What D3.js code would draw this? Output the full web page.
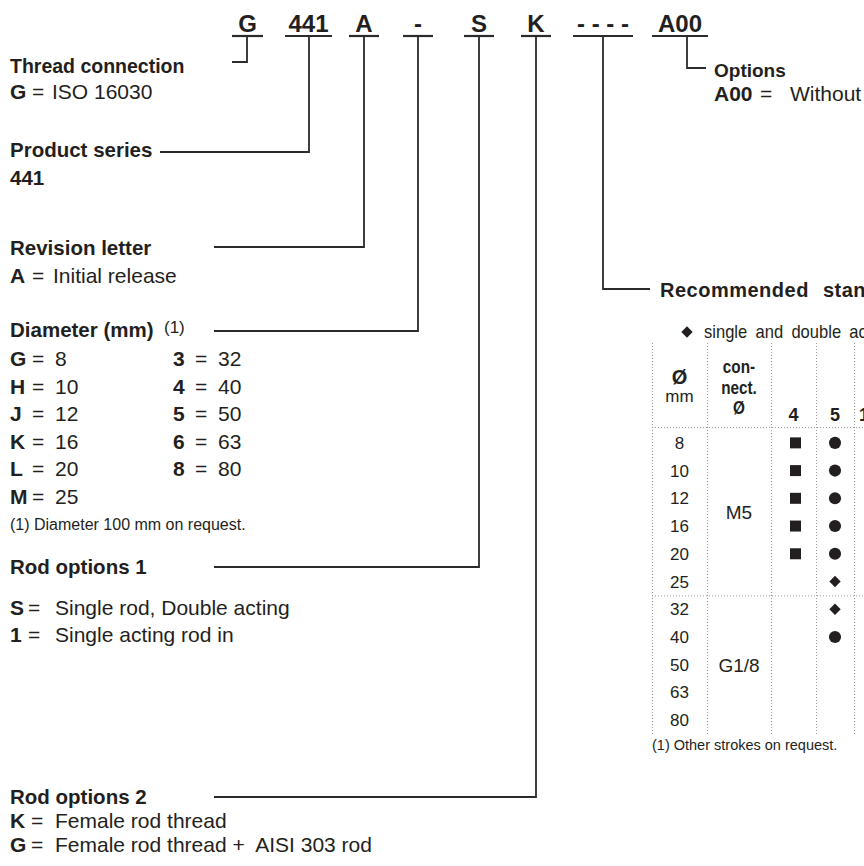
<!DOCTYPE html>
<html>
<head>
<meta charset="utf-8">
<script src="https://cdn.jsdelivr.net/npm/d3@7"></script>
<style>
  body { margin: 0; background: #fff; overflow: hidden; }
  svg { display: block; font-family: "Liberation Sans", Arial, Helvetica, sans-serif; }
</style>
</head>
<body>
<div id="chart"></div>
<script>
// ordering code parts
var codeParts = ["G", "441", "A", "-", "S", "K", "- - - -", "A00"];

// section titles (left block + right block)
var sectionTitles = ["Thread connection", "Product series", "Revision letter", "Diameter (mm)",
                     "Rod options 1", "Rod options 2", "Options", "Recommended standard strokes (1)"];

var threadCodes = [["G", "ISO 16030"]];
var seriesCodes = ["441"];
var revisionCodes = [["A", "Initial release"]];
var diameterLeft = [["G", "8"], ["H", "10"], ["J", "12"], ["K", "16"], ["L", "20"], ["M", "25"]];
var diameterRight = [["3", "32"], ["4", "40"], ["5", "50"], ["6", "63"], ["8", "80"]];
var rodOptions1 = [["S", "Single rod, Double acting"], ["1", "Single acting rod in"]];
var rodOptions2 = [["K", "Female rod thread"], ["G", "Female rod thread +\u00a0 AISI 303 rod"]];
var optionCodes = [["A00", "Without options"]];
var footnotes = ["(1) Diameter 100 mm on request.", "(1) Other strokes on request."];

// stroke table
var boreDiameters = [8, 10, 12, 16, 20, 25, 32, 40, 50, 63, 80];
var connections = [["M5", 8, 25], ["G1/8", 32, 80]];
var strokeColumns = ["4", "5", "10"];
var legendText = "single and double acting";
// mark per bore/stroke: square, circle, diamond
var strokeMarks = [
  [8, "4", "square"], [10, "4", "square"], [12, "4", "square"], [16, "4", "square"], [20, "4", "square"],
  [8, "5", "circle"], [10, "5", "circle"], [12, "5", "circle"], [16, "5", "circle"], [20, "5", "circle"],
  [25, "5", "diamond"], [32, "5", "diamond"], [40, "5", "circle"]
];

var W = 864, H = 866;
var ink = "#231f20", lineCol = "#2b2b2b", dotCol = "#9a9a9a";

var svg = d3.select("#chart").append("svg")
    .attr("width", W)
    .attr("height", H);

// ---- header code ----
var partX = d3.scaleOrdinal().domain(codeParts).range([247.5, 308.5, 364, 418, 479, 536, 603, 680]);
var partW = d3.scaleOrdinal().domain(codeParts).range([31, 47, 30, 30, 30, 30, 60, 56]);
var leaderX = d3.scaleOrdinal().domain(codeParts).range([247, 309, 364, 418, 479, 536, 603, 687]);
var underY = 36;

svg.selectAll(".part")
  .data(codeParts)
  .enter().append("text")
    .attr("class", "part")
    .attr("x", function(d) { return partX(d); })
    .attr("y", 32)
    .attr("text-anchor", "middle")
    .attr("font-size", 24)
    .attr("font-weight", "bold")
    .attr("fill", ink)
    .text(function(d) { return d; });

svg.selectAll(".under")
  .data(codeParts)
  .enter().append("line")
    .attr("class", "under")
    .attr("x1", function(d) { return partX(d) - partW(d) / 2; })
    .attr("x2", function(d) { return partX(d) + partW(d) / 2; })
    .attr("y1", underY).attr("y2", underY)
    .attr("stroke", lineCol)
    .attr("stroke-width", 2.2);

// ---- left column text ----
function title(x, y, t, size) {
  return svg.append("text")
    .attr("x", x).attr("y", y)
    .attr("font-size", size || 20.5)
    .attr("font-weight", "bold")
    .attr("fill", ink)
    .text(t);
}

function codeRow(x, y, code, desc, eqX, descX, size) {
  var t = svg.append("text")
    .attr("y", y)
    .attr("font-size", size || 21)
    .attr("fill", ink);
  t.append("tspan").attr("x", x).attr("font-weight", "bold").text(code);
  t.append("tspan").attr("x", eqX).text("=");
  t.append("tspan").attr("x", descX).text(desc);
  return t;
}

var L = 10;
// baselines of left titles
var titleY = [73, 157, 255, 337, 574, 804];

title(L, titleY[0], sectionTitles[0], 19.5);
threadCodes.forEach(function(d) { codeRow(L, 99, d[0], d[1], 32, 52); });

title(L, titleY[1], sectionTitles[1]);
svg.append("text").attr("x", L).attr("y", 185)
  .attr("font-size", 20.5).attr("font-weight", "bold").attr("fill", ink)
  .text(seriesCodes[0]);

title(L, titleY[2], sectionTitles[2]);
revisionCodes.forEach(function(d) { codeRow(L, 283, d[0], d[1], 32, 53); });

title(L, titleY[3], sectionTitles[3]);
svg.append("text").attr("x", 164).attr("y", 333)
  .attr("font-size", 17).attr("fill", ink).text("(1)");

var dRow = d3.scaleLinear().domain([0, 5]).range([366, 504]);
diameterLeft.forEach(function(d, i) { codeRow(L, dRow(i), d[0], d[1], 32, 55); });
diameterRight.forEach(function(d, i) { codeRow(173, dRow(i), d[0], d[1], 195, 218); });

svg.append("text").attr("x", L).attr("y", 530)
  .attr("font-size", 16).attr("fill", ink).text(footnotes[0]);

title(L, titleY[4], sectionTitles[4]);
var r1Row = d3.scaleLinear().domain([0, 1]).range([615, 642]);
rodOptions1.forEach(function(d, i) { codeRow(L, r1Row(i), d[0], d[1], 28, 55); });

title(L, titleY[5], sectionTitles[5]);
var r2Row = d3.scaleLinear().domain([0, 1]).range([828, 852]);
rodOptions2.forEach(function(d, i) { codeRow(L, r2Row(i), d[0], d[1], 31, 55); });

// ---- right side: options ----
title(714, 77, sectionTitles[6], 19);
optionCodes.forEach(function(d) { codeRow(714, 101, d[0], d[1], 760, 790, 21); });

// ---- leaders ----
var line = d3.line();
var leaders = [
  ["G", 62, 232],
  ["441", titleY[1] - 5, 160],
  ["A", titleY[2] - 8, 214],
  ["-", titleY[3] - 6, 214],
  ["S", titleY[4] - 7, 214],
  ["K", titleY[5] - 7, 214],
  ["- - - -", 289, 650],
  ["A00", 68, 706]
];
svg.selectAll(".leader")
  .data(leaders)
  .enter().append("path")
    .attr("class", "leader")
    .attr("d", function(d) {
      var x = leaderX(d[0]);
      return line([[x, underY], [x, d[1]], [d[2], d[1]]]);
    })
    .attr("fill", "none")
    .attr("stroke", lineCol)
    .attr("stroke-width", 1.8);

// ---- stroke table ----
svg.append("text")
  .attr("x", 660).attr("y", 297)
  .attr("font-size", 20).attr("font-weight", "bold")
  .attr("letter-spacing", 0.5).attr("word-spacing", 8)
  .attr("fill", ink)
  .text(sectionTitles[7]);

var sym = d3.symbol();
function markPath(type) {
  if (type === "square") return sym.type(d3.symbolSquare).size(121)();
  if (type === "circle") return sym.type(d3.symbolCircle).size(115)();
  return sym.type(d3.symbolSquare).size(64)();
}
function markRot(type) { return type === "diamond" ? " rotate(45)" : ""; }

// legend
svg.append("path")
  .attr("d", markPath("diamond"))
  .attr("transform", "translate(687,332)" + markRot("diamond"))
  .attr("fill", ink);
svg.append("text")
  .attr("transform", "translate(704,338) scale(0.92,1)")
  .attr("font-size", 18).attr("word-spacing", 4)
  .attr("fill", ink)
  .text(legendText);

var tableTop = 343, headBottom = 427;
var y = d3.scaleBand().domain(boreDiameters).range([429, 734]);
var colKeys = ["bore", "conn"].concat(strokeColumns);
var colLeft = d3.scaleOrdinal().domain(colKeys).range([652, 707, 771, 816, 854]);
var colRight = d3.scaleOrdinal().domain(colKeys).range([707, 771, 816, 854, 884]);
function colMid(k) { return (colLeft(k) + colRight(k)) / 2; }

// dotted grid
var grid = svg.append("g")
  .attr("stroke", dotCol)
  .attr("stroke-width", 1)
  .attr("stroke-dasharray", "1,2");
grid.selectAll(".vl")
  .data(colKeys)
  .enter().append("line")
    .attr("x1", function(d) { return colLeft(d) + 0.5; })
    .attr("x2", function(d) { return colLeft(d) + 0.5; })
    .attr("y1", tableTop).attr("y2", y.range()[1]);
grid.selectAll(".hl")
  .data([headBottom, y(32)])
  .enter().append("line")
    .attr("x1", 652).attr("x2", W)
    .attr("y1", function(d) { return d + 0.5; })
    .attr("y2", function(d) { return d + 0.5; });

// header cells
svg.append("text").attr("x", colMid("bore")).attr("y", 384)
  .attr("text-anchor", "middle").attr("font-size", 20).attr("font-weight", "bold")
  .attr("fill", ink).text("Ø");
svg.append("text").attr("x", colMid("bore")).attr("y", 402)
  .attr("text-anchor", "middle").attr("font-size", 17)
  .attr("fill", ink).text("mm");
["con-", "nect.", "Ø"].forEach(function(t, i) {
  svg.append("text")
    .attr("transform", "translate(" + colMid("conn") + "," + (373 + i * 20.5) + ") scale(0.85,1)")
    .attr("text-anchor", "middle").attr("font-size", 18).attr("font-weight", "bold")
    .attr("fill", ink).text(t);
});
svg.selectAll(".colhead")
  .data(strokeColumns)
  .enter().append("text")
    .attr("x", function(d) { return colMid(d); })
    .attr("y", 421)
    .attr("text-anchor", "middle")
    .attr("font-size", 18).attr("font-weight", "bold")
    .attr("fill", ink)
    .text(function(d) { return d; });

// bore labels
svg.selectAll(".bore")
  .data(boreDiameters)
  .enter().append("text")
    .attr("x", colMid("bore"))
    .attr("y", function(d) { return y(d) + y.bandwidth() / 2 + 6; })
    .attr("text-anchor", "middle")
    .attr("font-size", 17)
    .attr("fill", ink)
    .text(function(d) { return d; });

// connection spans
svg.selectAll(".conn")
  .data(connections)
  .enter().append("text")
    .attr("x", colMid("conn"))
    .attr("y", function(d) { return (y(d[1]) + y(d[2]) + y.bandwidth()) / 2 + 7; })
    .attr("text-anchor", "middle")
    .attr("font-size", 19)
    .attr("fill", ink)
    .text(function(d) { return d[0]; });

// marks
svg.selectAll(".mark")
  .data(strokeMarks)
  .enter().append("path")
    .attr("d", function(d) { return markPath(d[2]); })
    .attr("transform", function(d) {
      return "translate(" + (colMid(d[1]) + (d[1] === "4" ? 2 : 0)) + "," + (y(d[0]) + y.bandwidth() / 2) + ")" + markRot(d[2]);
    })
    .attr("fill", ink);

svg.append("text").attr("x", 652).attr("y", 750)
  .attr("font-size", 14.5).attr("fill", ink).text(footnotes[1]);
</script>
</body>
</html>
